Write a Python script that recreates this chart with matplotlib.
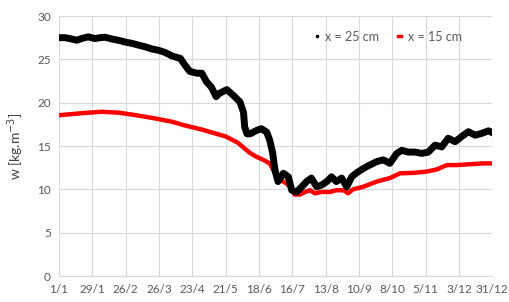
import matplotlib.pyplot as plt
from matplotlib.lines import Line2D

plt.rcParams['font.family'] = ['Lato', 'DejaVu Sans']

# day of year (1/1 = 0) and moisture content w [kg/m3]
day_25 = [0, 5, 10.6, 14.9, 19, 24.6, 30, 34.5, 38.7, 44.3, 49.8, 55.5, 61, 66.6,
          72.3, 78, 83.4, 89, 94.7, 102, 106, 110, 116, 120, 124, 128, 132, 135,
          141, 146, 152, 155, 156, 158, 160.5, 166, 170, 174.5, 177, 179.5, 181.5,
          184, 188.5, 192.7, 195.5, 199.7, 204, 208, 212, 216.5, 220.7, 225, 229,
          233, 237.5, 241.7, 246, 250, 255.7, 261, 267, 272.5, 278, 283.8, 288,
          293.5, 299, 304.8, 310.3, 316, 321.6, 327, 332.8, 338.4, 344, 349.6,
          355, 360.8, 364]
w_25 = [27.5, 27.5, 27.35, 27.2, 27.4, 27.6, 27.4, 27.5, 27.55, 27.35, 27.2, 27.0,
        26.85, 26.65, 26.45, 26.2, 26.05, 25.8, 25.4, 25.1, 24.3, 23.6, 23.4, 23.4,
        22.4, 21.8, 20.7, 21.1, 21.5, 20.9, 20.1, 18.9, 17.2, 16.4, 16.4, 16.8,
        17.0, 16.6, 15.7, 14.2, 12.2, 10.9, 11.85, 11.45, 9.9, 9.7, 10.3, 10.9,
        11.3, 10.3, 10.5, 10.9, 11.45, 10.9, 11.3, 10.3, 11.45, 11.9, 12.4, 12.8,
        13.2, 13.4, 13.0, 14.15, 14.5, 14.3, 14.3, 14.15, 14.3, 15.1, 14.9, 15.9,
        15.5, 16.1, 16.65, 16.25, 16.45, 16.75, 16.55]

day_15 = [0, 20, 36, 50, 65, 80, 95, 105, 120, 130, 140, 150, 160.5, 166, 171.7,
          177, 181.5, 185.7, 191, 195.5, 198, 202.5, 206.7, 211, 215, 220.7, 227.7,
          233, 239, 243, 247, 255.7, 267, 278, 286.5, 297.7, 309, 317.4, 325.8,
          334, 345.4, 356.6, 364]
w_15 = [18.55, 18.8, 18.95, 18.85, 18.55, 18.2, 17.8, 17.4, 16.9, 16.5, 16.1, 15.4,
        14.2, 13.75, 13.4, 13.0, 11.85, 11.1, 10.7, 10.15, 9.4, 9.4, 9.7, 9.9,
        9.55, 9.7, 9.7, 9.9, 9.9, 9.55, 10.0, 10.3, 10.9, 11.3, 11.85, 11.9,
        12.05, 12.3, 12.8, 12.8, 12.9, 13.0, 13.0]

tick_days = list(range(0, 365, 28))
tick_labels = ['1/1', '29/1', '26/2', '26/3', '23/4', '21/5', '18/6', '16/7',
               '13/8', '10/9', '8/10', '5/11', '3/12', '31/12']

grey = '#595959'
fig = plt.figure(figsize=(5.09, 3.02), dpi=100)
ax = fig.add_axes([0.116, 0.086, 0.851, 0.861])

ax.plot(day_15, w_15, color='#ff0000', lw=3.2, solid_capstyle='butt', zorder=3)
ax.plot(day_25, w_25, color='black', lw=5, solid_joinstyle='round', zorder=4)

ax.set_xlim(0, 364)
ax.set_ylim(0, 30)
ax.set_xticks(tick_days)
ax.set_xticklabels(tick_labels)
ax.set_yticks(range(0, 31, 5))
ax.grid(True, color='#d9d9d9', lw=0.8)
ax.set_axisbelow(True)
for s in ['top', 'right', 'left']:
    ax.spines[s].set_visible(False)
ax.spines['bottom'].set_color('#d9d9d9')
ax.tick_params(length=0, labelsize=8.5, labelcolor=grey, pad=6)
ax.set_ylabel('w [kg.m$^{-3}$]', fontsize=10, color='#404040', labelpad=8)

handles = [Line2D([], [], color='black', marker='o', ms=1.6, ls='none'),
           Line2D([], [], color='#ff0000', lw=2.5)]
ax.legend(handles, ['x = 25 cm', 'x = 15 cm'], loc='center', bbox_to_anchor=(0.76, 0.92),
          ncol=2, frameon=False, fontsize=9, labelcolor=grey, handlelength=0.3,
          handletextpad=0.5, columnspacing=1.5)

fig.savefig('out.png', dpi=100)
